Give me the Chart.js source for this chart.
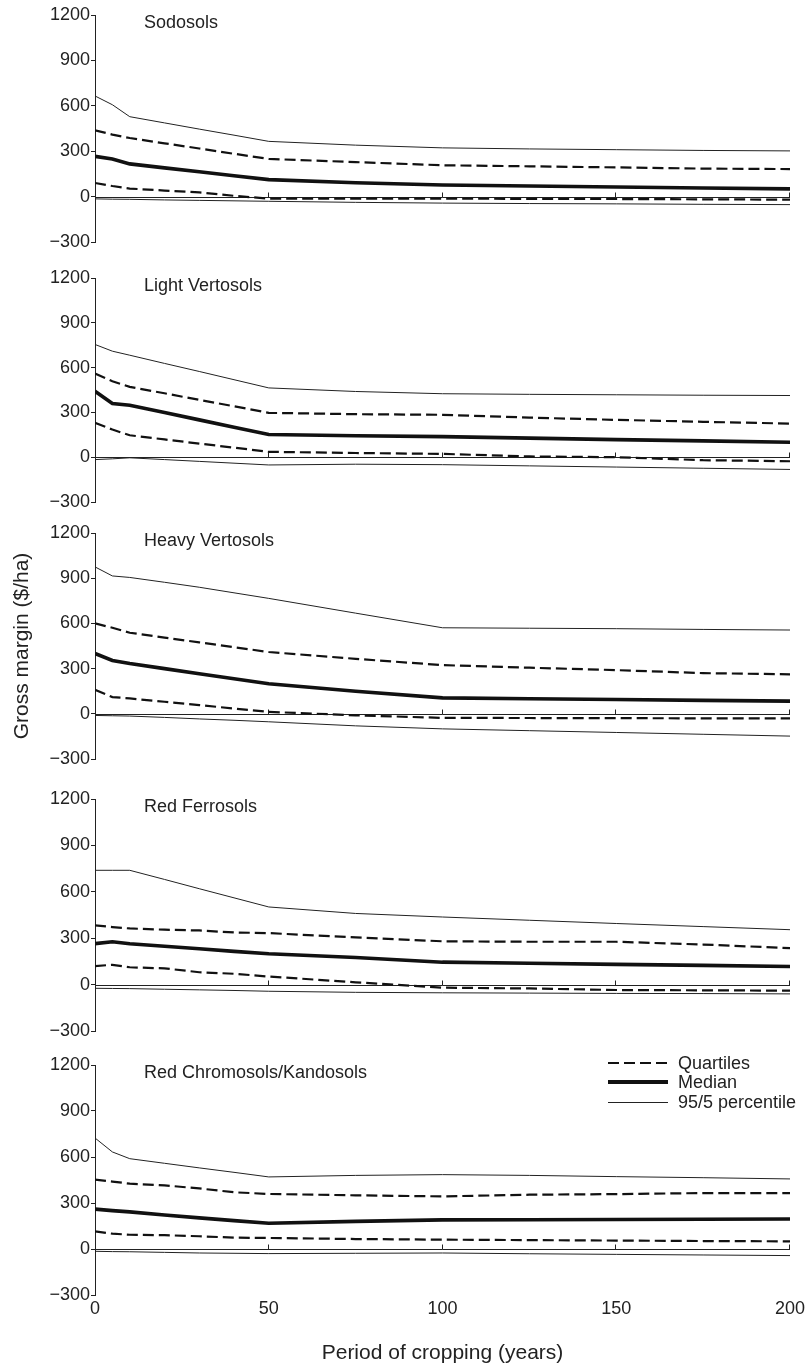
<!DOCTYPE html>
<html>
<head>
<meta charset="utf-8">
<title>Gross margin by soil type</title>
<script src="https://cdn.jsdelivr.net/npm/chart.js@4/dist/chart.umd.min.js"></script>
<style>
  body { margin: 0; background: #fff; }
  #wrap { position: relative; width: 809px; height: 1370px; overflow: hidden; font-family: "Liberation Sans", Arial, sans-serif; color: #222; }
  .panel { position: absolute; left: 0; width: 809px; }
  .legrow { position: absolute; left: 608px; height: 20px; font-size: 18px; line-height: 20px; }
  .legrow span.sample { position: absolute; left: 0; width: 60px; }
  .legrow span.txt { position: absolute; left: 70px; white-space: nowrap; }
</style>
</head>
<body>
<div id="wrap">
  <div class="panel" id="p0"><canvas id="c0"></canvas></div>
  <div class="panel" id="p1"><canvas id="c1"></canvas></div>
  <div class="panel" id="p2"><canvas id="c2"></canvas></div>
  <div class="panel" id="p3"><canvas id="c3"></canvas></div>
  <div class="panel" id="p4"><canvas id="c4"></canvas></div>
  <div id="legend"></div>
</div>
<script>
// years of cropping (x values shared by every panel)
var years = [0, 5, 10, 20, 30, 40, 50, 75, 100, 125, 150, 175, 200];
var xTicks = [0, 50, 100, 150, 200];
var zeroTicks = [50, 100, 150, 200];
var yTicks = [-300, 0, 300, 600, 900, 1200];

var soils = ['Sodosols', 'Light Vertosols', 'Heavy Vertosols', 'Red Ferrosols', 'Red Chromosols/Kandosols'];
var legendLabels = ['Quartiles', 'Median', '95/5 percentile'];

// Sodosols
var sodP95 = [665, 607, 528, 487, 446, 406, 365, 340, 322, 315, 310, 305, 302];
var sodQ3 = [438, 410, 387, 352, 318, 283, 249, 228, 207, 200, 193, 185, 182];
var sodMed = [266, 249, 216, 190, 164, 138, 112, 92, 77, 70, 63, 57, 51];
var sodQ1 = [90, 70, 53, 40, 28, 5, -13, -13, -13, -15, -16, -18, -20];
var sodP5 = [-15, -17, -18, -22, -25, -28, -31, -38, -43, -46, -48, -51, -53];

// Light Vertosols
var lvP95 = [755, 710, 683, 628, 574, 519, 464, 440, 425, 421, 418, 415, 413];
var lvQ3 = [560, 509, 471, 428, 384, 341, 297, 288, 284, 265, 250, 237, 225];
var lvMed = [442, 360, 348, 299, 250, 201, 152, 144, 138, 128, 118, 109, 100];
var lvQ1 = [230, 185, 147, 119, 91, 64, 36, 28, 22, 5, 0, -20, -27];
var lvP5 = [-16, -11, -4, -16, -28, -40, -52, -47, -50, -58, -66, -74, -82];

// Heavy Vertosols
var hvP95 = [975, 915, 905, 873, 840, 803, 766, 668, 571, 568, 565, 560, 556];
var hvQ3 = [600, 571, 538, 506, 474, 442, 410, 365, 323, 306, 290, 270, 262];
var hvMed = [400, 354, 334, 300, 266, 233, 199, 150, 106, 100, 95, 89, 84];
var hvQ1 = [160, 111, 102, 80, 58, 35, 13, -10, -27, -28, -29, -30, -31];
var hvP5 = [-11, -13, -15, -24, -34, -43, -53, -80, -100, -112, -124, -136, -148];

// Red Ferrosols
var rfP95 = [739, 739, 739, 680, 620, 561, 502, 460, 437, 416, 395, 375, 355];
var rfQ3 = [383, 372, 363, 355, 350, 337, 333, 305, 280, 277, 277, 259, 236];
var rfMed = [265, 277, 264, 248, 232, 215, 199, 175, 145, 138, 131, 124, 117];
var rfQ1 = [120, 128, 112, 105, 80, 70, 52, 15, -20, -25, -35, -37, -39];
var rfP5 = [-24, -25, -26, -30, -34, -38, -43, -50, -53, -55, -57, -58, -60];

// Red Chromosols/Kandosols
var rcP95 = [724, 633, 589, 559, 529, 500, 470, 480, 485, 480, 472, 465, 457];
var rcQ3 = [452, 440, 426, 415, 395, 370, 359, 350, 343, 354, 358, 365, 365];
var rcMed = [260, 250, 242, 222, 203, 185, 168, 180, 190, 191, 192, 194, 196];
var rcQ1 = [115, 100, 93, 90, 83, 74, 72, 65, 61, 58, 55, 52, 50];
var rcP5 = [-15, -17, -18, -22, -26, -28, -30, -28, -26, -31, -35, -39, -43];

var panelSeries = [
    [sodP95, sodQ3, sodMed, sodQ1, sodP5],
    [lvP95, lvQ3, lvMed, lvQ1, lvP5],
    [hvP95, hvQ3, hvMed, hvQ1, hvP5],
    [rfP95, rfQ3, rfMed, rfQ1, rfP5],
    [rcP95, rcQ3, rcMed, rcQ1, rcP5]
];

// layout: top of plot area (the 1200 line) and plot height for each panel
var panelTop = [15, 278, 533, 799, 1065];
var panelHeight = [227, 224, 226, 232, 230];
var pad = 12;
var ink = '#222';

Chart.defaults.font.family = '"Liberation Sans", Arial, sans-serif';
Chart.defaults.font.size = 18;
Chart.defaults.color = ink;

// horizontal zero line with small upward ticks
var zeroLinePlugin = {
    id: 'zeroLine',
    beforeDatasetsDraw: function (chart) {
        var ctx = chart.ctx;
        var xs = chart.scales.x;
        var ys = chart.scales.y;
        var y0 = Math.round(ys.getPixelForValue(0)) + 0.5;
        ctx.save();
        ctx.strokeStyle = ink;
        ctx.lineWidth = 1;
        ctx.beginPath();
        ctx.moveTo(xs.getPixelForValue(xTicks[0]), y0);
        ctx.lineTo(xs.getPixelForValue(xTicks[xTicks.length - 1]), y0);
        zeroTicks.forEach(function (t) {
            var px = Math.round(xs.getPixelForValue(t)) - 0.5;
            ctx.moveTo(px, y0);
            ctx.lineTo(px, y0 - 5);
        });
        ctx.stroke();
        ctx.restore();
    }
};

// soil name written inside the plot area
var panelNamePlugin = {
    id: 'panelName',
    afterDraw: function (chart, args, opts) {
        var ctx = chart.ctx;
        var area = chart.chartArea;
        ctx.save();
        ctx.font = '18px "Liberation Sans", Arial, sans-serif';
        ctx.fillStyle = ink;
        ctx.textBaseline = 'middle';
        ctx.textAlign = 'left';
        ctx.fillText(opts.text, area.left + 49, area.top + 8);
        ctx.restore();
    }
};

function buildPanel(i) {
    var isLast = (i == soils.length - 1);
    var s = panelSeries[i];
    var h = isLast ? (1370 - (panelTop[i] - pad)) : panelHeight[i] + 2 * pad;
    var holder = document.getElementById('p' + i);
    holder.style.top = (panelTop[i] - pad) + 'px';
    holder.style.height = h + 'px';

    var thin = { borderColor: ink, borderWidth: 1, pointRadius: 0, tension: 0, fill: false };
    var dash = { borderColor: '#111', borderWidth: 2.2, borderDash: [11, 5], pointRadius: 0, tension: 0, fill: false };
    var thick = { borderColor: '#111', borderWidth: 3.6, pointRadius: 0, tension: 0, fill: false };

    var datasets = [
        Object.assign({ label: legendLabels[2], data: s[0] }, thin),
        Object.assign({ label: legendLabels[0], data: s[1] }, dash),
        Object.assign({ label: legendLabels[1], data: s[2] }, thick),
        Object.assign({ label: legendLabels[0], data: s[3] }, dash),
        Object.assign({ label: legendLabels[2], data: s[4] }, thin)
    ];

    new Chart(document.getElementById('c' + i).getContext('2d'), {
        type: 'line',
        data: { labels: years, datasets: datasets },
        plugins: [zeroLinePlugin, panelNamePlugin],
        options: {
            responsive: true,
            maintainAspectRatio: false,
            animation: false,
            layout: { padding: { top: pad, bottom: isLast ? 0 : pad, left: 0, right: 19 } },
            plugins: {
                legend: { display: false },
                tooltip: { enabled: false },
                panelName: { text: soils[i] }
            },
            scales: {
                x: {
                    type: 'linear',
                    min: xTicks[0],
                    max: xTicks[xTicks.length - 1],
                    display: isLast,
                    grid: { display: false, drawTicks: false },
                    border: { display: false },
                    afterBuildTicks: function (scale) {
                        scale.ticks = xTicks.map(function (v) { return { value: v }; });
                    },
                    ticks: { padding: 3, color: ink, maxRotation: 0 },
                    title: {
                        display: isLast,
                        text: 'Period of cropping (years)',
                        font: { size: 21 },
                        color: ink,
                        padding: { top: 0, bottom: 4 }
                    },
                    afterFit: function (scale) { scale.height = isLast ? 75 : 0; }
                },
                y: {
                    min: yTicks[0],
                    max: yTicks[yTicks.length - 1],
                    afterBuildTicks: function (scale) {
                        scale.ticks = yTicks.map(function (v) { return { value: v }; });
                    },
                    grid: { drawOnChartArea: false, drawTicks: true, tickLength: 4, color: ink },
                    border: { display: true, color: ink, width: 1 },
                    ticks: {
                        padding: 1,
                        color: ink,
                        callback: function (v) { return v < 0 ? '\u2212' + Math.abs(v) : '' + v; }
                    },
                    title: {
                        display: i == 2,
                        text: 'Gross margin ($/ha)',
                        font: { size: 21 },
                        color: ink,
                        padding: { top: 10, bottom: 0 }
                    },
                    afterFit: function (scale) { scale.width = 95; }
                }
            }
        }
    });
}

for (var i = 0; i < soils.length; i++) {
    buildPanel(i);
}

//legend inside the last panel
var legendStyles = [
    'top:9px;height:2px;background:repeating-linear-gradient(to right,#111 0 11px,transparent 11px 16px);',
    'top:8px;height:4px;background:#111;',
    'top:10px;height:1px;background:' + ink + ';'
];
var legendTop = [1053, 1072, 1092];
var html = '';
for (var k = 0; k < legendLabels.length; k++) {
    html += '<div class="legrow" style="top:' + legendTop[k] + 'px">';
    html += '   <span class="sample" style="' + legendStyles[k] + '"></span>';
    html += '   <span class="txt">' + legendLabels[k] + '</span>';
    html += '</div>';
}
document.getElementById('legend').innerHTML = html;
</script>
</body>
</html>
